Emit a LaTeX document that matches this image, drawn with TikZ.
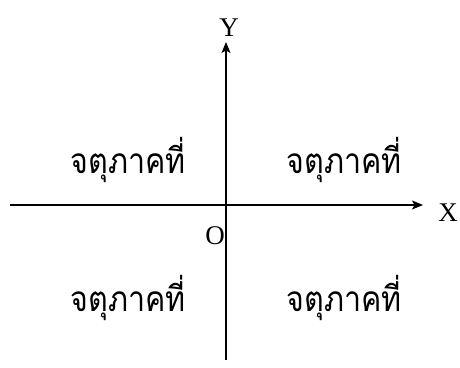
\documentclass[tikz,border=0pt]{standalone}
\usepackage{fontspec}
\setmainfont{Liberation Serif}
\newfontfamily\thaifont[Script=Thai]{Loma}
\usetikzlibrary{arrows.meta}
\begin{document}
\begin{tikzpicture}[x=1pt,y=1pt,
  axis/.style={line width=1.4pt,-{Stealth[length=11pt,width=9pt,inset=2.5pt]}},
  lbl/.style={font=\fontsize{27}{30}\selectfont, inner sep=0pt},
  quad/.style={font=\thaifont\fontsize{32}{34}\selectfont, inner sep=0pt, xscale=0.95, yscale=1.1}]
\useasboundingbox (0,0) rectangle (460,367);
\coordinate (xl) at (10,162);
\coordinate (xr) at (423,162);
\coordinate (yb) at (226,7);
\coordinate (yt) at (226,325);
\draw[axis] (xl) -- (xr);
\draw[axis] (yb) -- (yt);
\node[lbl] (Y) at (229,339) {Y};
\node[lbl] (X) at (448,154) {X};
\node[lbl] (O) at (215,131) {O};
\node[quad] (q2) at (128,207) {จตุภาคที่};
\node[quad] (q1) at (344,207) {จตุภาคที่};
\node[quad] (q3) at (128,69) {จตุภาคที่};
\node[quad] (q4) at (344,69) {จตุภาคที่};
\end{tikzpicture}
\end{document}
